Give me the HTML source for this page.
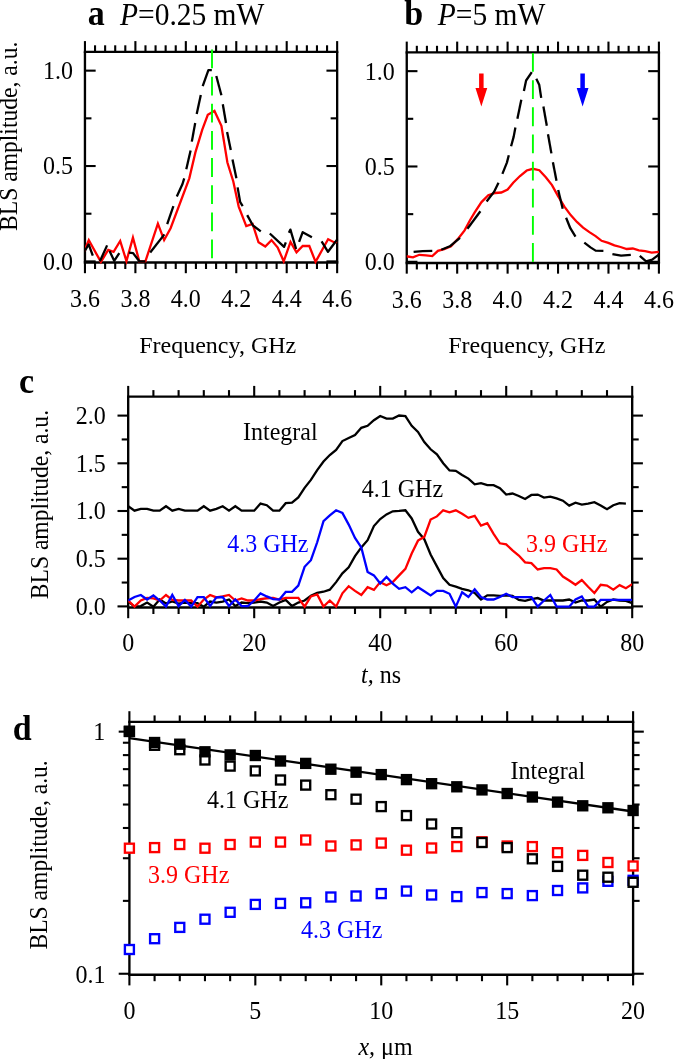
<!DOCTYPE html>
<html lang="en"><head><meta charset="utf-8"><title>BLS amplitude figure</title>
<style>
html,body{margin:0;padding:0;background:#fff;}
body{width:685px;height:1059px;overflow:hidden;}
svg{display:block;font-family:'Liberation Serif', 'DejaVu Serif', serif;}
</style></head><body>
<svg width="685" height="1059" viewBox="0 0 685 1059">
<rect x="0" y="0" width="685" height="1059" fill="#fff"/>
<defs><clipPath id="ca"><rect x="84.95" y="51.8" width="252.2" height="213.29999999999998"/></clipPath><clipPath id="cb"><rect x="406.75" y="52.3" width="252.14999999999998" height="213.24999999999997"/></clipPath><clipPath id="cc"><rect x="128.2" y="396.6" width="504.00000000000006" height="213.49999999999997"/></clipPath></defs>
<line x1="83.78" y1="51.80" x2="338.32" y2="51.80" stroke="#000" stroke-width="2.35" />
<line x1="83.78" y1="262.50" x2="338.32" y2="262.50" stroke="#000" stroke-width="2.35" />
<line x1="84.95" y1="51.80" x2="84.95" y2="262.50" stroke="#000" stroke-width="2.35" />
<line x1="337.15" y1="51.80" x2="337.15" y2="262.50" stroke="#000" stroke-width="2.35" />
<line x1="84.95" y1="51.80" x2="84.95" y2="41.10" stroke="#000" stroke-width="2.1" />
<line x1="84.95" y1="262.50" x2="84.95" y2="273.20" stroke="#000" stroke-width="2.1" />
<line x1="95.04" y1="51.80" x2="95.04" y2="45.30" stroke="#000" stroke-width="2.1" />
<line x1="95.04" y1="262.50" x2="95.04" y2="269.00" stroke="#000" stroke-width="2.1" />
<line x1="105.13" y1="51.80" x2="105.13" y2="45.30" stroke="#000" stroke-width="2.1" />
<line x1="105.13" y1="262.50" x2="105.13" y2="269.00" stroke="#000" stroke-width="2.1" />
<line x1="115.21" y1="51.80" x2="115.21" y2="45.30" stroke="#000" stroke-width="2.1" />
<line x1="115.21" y1="262.50" x2="115.21" y2="269.00" stroke="#000" stroke-width="2.1" />
<line x1="125.30" y1="51.80" x2="125.30" y2="45.30" stroke="#000" stroke-width="2.1" />
<line x1="125.30" y1="262.50" x2="125.30" y2="269.00" stroke="#000" stroke-width="2.1" />
<line x1="135.39" y1="51.80" x2="135.39" y2="41.10" stroke="#000" stroke-width="2.1" />
<line x1="135.39" y1="262.50" x2="135.39" y2="273.20" stroke="#000" stroke-width="2.1" />
<line x1="145.48" y1="51.80" x2="145.48" y2="45.30" stroke="#000" stroke-width="2.1" />
<line x1="145.48" y1="262.50" x2="145.48" y2="269.00" stroke="#000" stroke-width="2.1" />
<line x1="155.57" y1="51.80" x2="155.57" y2="45.30" stroke="#000" stroke-width="2.1" />
<line x1="155.57" y1="262.50" x2="155.57" y2="269.00" stroke="#000" stroke-width="2.1" />
<line x1="165.65" y1="51.80" x2="165.65" y2="45.30" stroke="#000" stroke-width="2.1" />
<line x1="165.65" y1="262.50" x2="165.65" y2="269.00" stroke="#000" stroke-width="2.1" />
<line x1="175.74" y1="51.80" x2="175.74" y2="45.30" stroke="#000" stroke-width="2.1" />
<line x1="175.74" y1="262.50" x2="175.74" y2="269.00" stroke="#000" stroke-width="2.1" />
<line x1="185.83" y1="51.80" x2="185.83" y2="41.10" stroke="#000" stroke-width="2.1" />
<line x1="185.83" y1="262.50" x2="185.83" y2="273.20" stroke="#000" stroke-width="2.1" />
<line x1="195.92" y1="51.80" x2="195.92" y2="45.30" stroke="#000" stroke-width="2.1" />
<line x1="195.92" y1="262.50" x2="195.92" y2="269.00" stroke="#000" stroke-width="2.1" />
<line x1="206.01" y1="51.80" x2="206.01" y2="45.30" stroke="#000" stroke-width="2.1" />
<line x1="206.01" y1="262.50" x2="206.01" y2="269.00" stroke="#000" stroke-width="2.1" />
<line x1="216.09" y1="51.80" x2="216.09" y2="45.30" stroke="#000" stroke-width="2.1" />
<line x1="216.09" y1="262.50" x2="216.09" y2="269.00" stroke="#000" stroke-width="2.1" />
<line x1="226.18" y1="51.80" x2="226.18" y2="45.30" stroke="#000" stroke-width="2.1" />
<line x1="226.18" y1="262.50" x2="226.18" y2="269.00" stroke="#000" stroke-width="2.1" />
<line x1="236.27" y1="51.80" x2="236.27" y2="41.10" stroke="#000" stroke-width="2.1" />
<line x1="236.27" y1="262.50" x2="236.27" y2="273.20" stroke="#000" stroke-width="2.1" />
<line x1="246.36" y1="51.80" x2="246.36" y2="45.30" stroke="#000" stroke-width="2.1" />
<line x1="246.36" y1="262.50" x2="246.36" y2="269.00" stroke="#000" stroke-width="2.1" />
<line x1="256.45" y1="51.80" x2="256.45" y2="45.30" stroke="#000" stroke-width="2.1" />
<line x1="256.45" y1="262.50" x2="256.45" y2="269.00" stroke="#000" stroke-width="2.1" />
<line x1="266.53" y1="51.80" x2="266.53" y2="45.30" stroke="#000" stroke-width="2.1" />
<line x1="266.53" y1="262.50" x2="266.53" y2="269.00" stroke="#000" stroke-width="2.1" />
<line x1="276.62" y1="51.80" x2="276.62" y2="45.30" stroke="#000" stroke-width="2.1" />
<line x1="276.62" y1="262.50" x2="276.62" y2="269.00" stroke="#000" stroke-width="2.1" />
<line x1="286.71" y1="51.80" x2="286.71" y2="41.10" stroke="#000" stroke-width="2.1" />
<line x1="286.71" y1="262.50" x2="286.71" y2="273.20" stroke="#000" stroke-width="2.1" />
<line x1="296.80" y1="51.80" x2="296.80" y2="45.30" stroke="#000" stroke-width="2.1" />
<line x1="296.80" y1="262.50" x2="296.80" y2="269.00" stroke="#000" stroke-width="2.1" />
<line x1="306.89" y1="51.80" x2="306.89" y2="45.30" stroke="#000" stroke-width="2.1" />
<line x1="306.89" y1="262.50" x2="306.89" y2="269.00" stroke="#000" stroke-width="2.1" />
<line x1="316.97" y1="51.80" x2="316.97" y2="45.30" stroke="#000" stroke-width="2.1" />
<line x1="316.97" y1="262.50" x2="316.97" y2="269.00" stroke="#000" stroke-width="2.1" />
<line x1="327.06" y1="51.80" x2="327.06" y2="45.30" stroke="#000" stroke-width="2.1" />
<line x1="327.06" y1="262.50" x2="327.06" y2="269.00" stroke="#000" stroke-width="2.1" />
<line x1="337.15" y1="51.80" x2="337.15" y2="41.10" stroke="#000" stroke-width="2.1" />
<line x1="337.15" y1="262.50" x2="337.15" y2="273.20" stroke="#000" stroke-width="2.1" />
<line x1="84.95" y1="261.40" x2="95.65" y2="261.40" stroke="#000" stroke-width="2.1" />
<line x1="337.15" y1="261.40" x2="326.45" y2="261.40" stroke="#000" stroke-width="2.1" />
<text transform="translate(72.95,269.80) scale(1.0,1.05)" font-size="24" text-anchor="end">0.0</text>
<line x1="84.95" y1="213.71" x2="91.45" y2="213.71" stroke="#000" stroke-width="2.1" />
<line x1="337.15" y1="213.71" x2="330.65" y2="213.71" stroke="#000" stroke-width="2.1" />
<line x1="84.95" y1="166.02" x2="95.65" y2="166.02" stroke="#000" stroke-width="2.1" />
<line x1="337.15" y1="166.02" x2="326.45" y2="166.02" stroke="#000" stroke-width="2.1" />
<text transform="translate(72.95,174.42) scale(1.0,1.05)" font-size="24" text-anchor="end">0.5</text>
<line x1="84.95" y1="118.34" x2="91.45" y2="118.34" stroke="#000" stroke-width="2.1" />
<line x1="337.15" y1="118.34" x2="330.65" y2="118.34" stroke="#000" stroke-width="2.1" />
<line x1="84.95" y1="70.65" x2="95.65" y2="70.65" stroke="#000" stroke-width="2.1" />
<line x1="337.15" y1="70.65" x2="326.45" y2="70.65" stroke="#000" stroke-width="2.1" />
<text transform="translate(72.95,79.05) scale(1.0,1.05)" font-size="24" text-anchor="end">1.0</text>
<text transform="translate(84.95,307.10) scale(1.0,1.05)" font-size="24" text-anchor="middle">3.6</text>
<text transform="translate(135.39,307.10) scale(1.0,1.05)" font-size="24" text-anchor="middle">3.8</text>
<text transform="translate(185.83,307.10) scale(1.0,1.05)" font-size="24" text-anchor="middle">4.0</text>
<text transform="translate(236.27,307.10) scale(1.0,1.05)" font-size="24" text-anchor="middle">4.2</text>
<text transform="translate(286.71,307.10) scale(1.0,1.05)" font-size="24" text-anchor="middle">4.4</text>
<text transform="translate(337.15,307.10) scale(1.0,1.05)" font-size="24" text-anchor="middle">4.6</text>
<text transform="translate(217.75,352.50) scale(1.0,1.0)" font-size="24" text-anchor="middle">Frequency, GHz</text>
<text transform="translate(87.80,24.60) scale(1.0,1.035)" font-size="34" font-weight="bold">a</text>
<text transform="translate(120.00,24.90) scale(1.0,1.08)" font-size="29.5"><tspan font-style="italic">P</tspan>=0.25 mW</text>
<line x1="405.57" y1="52.30" x2="660.07" y2="52.30" stroke="#000" stroke-width="2.35" />
<line x1="405.57" y1="262.95" x2="660.07" y2="262.95" stroke="#000" stroke-width="2.35" />
<line x1="406.75" y1="52.30" x2="406.75" y2="262.95" stroke="#000" stroke-width="2.35" />
<line x1="658.90" y1="52.30" x2="658.90" y2="262.95" stroke="#000" stroke-width="2.35" />
<line x1="406.75" y1="52.30" x2="406.75" y2="41.60" stroke="#000" stroke-width="2.1" />
<line x1="406.75" y1="262.95" x2="406.75" y2="273.65" stroke="#000" stroke-width="2.1" />
<line x1="416.84" y1="52.30" x2="416.84" y2="45.80" stroke="#000" stroke-width="2.1" />
<line x1="416.84" y1="262.95" x2="416.84" y2="269.45" stroke="#000" stroke-width="2.1" />
<line x1="426.92" y1="52.30" x2="426.92" y2="45.80" stroke="#000" stroke-width="2.1" />
<line x1="426.92" y1="262.95" x2="426.92" y2="269.45" stroke="#000" stroke-width="2.1" />
<line x1="437.01" y1="52.30" x2="437.01" y2="45.80" stroke="#000" stroke-width="2.1" />
<line x1="437.01" y1="262.95" x2="437.01" y2="269.45" stroke="#000" stroke-width="2.1" />
<line x1="447.09" y1="52.30" x2="447.09" y2="45.80" stroke="#000" stroke-width="2.1" />
<line x1="447.09" y1="262.95" x2="447.09" y2="269.45" stroke="#000" stroke-width="2.1" />
<line x1="457.18" y1="52.30" x2="457.18" y2="41.60" stroke="#000" stroke-width="2.1" />
<line x1="457.18" y1="262.95" x2="457.18" y2="273.65" stroke="#000" stroke-width="2.1" />
<line x1="467.27" y1="52.30" x2="467.27" y2="45.80" stroke="#000" stroke-width="2.1" />
<line x1="467.27" y1="262.95" x2="467.27" y2="269.45" stroke="#000" stroke-width="2.1" />
<line x1="477.35" y1="52.30" x2="477.35" y2="45.80" stroke="#000" stroke-width="2.1" />
<line x1="477.35" y1="262.95" x2="477.35" y2="269.45" stroke="#000" stroke-width="2.1" />
<line x1="487.44" y1="52.30" x2="487.44" y2="45.80" stroke="#000" stroke-width="2.1" />
<line x1="487.44" y1="262.95" x2="487.44" y2="269.45" stroke="#000" stroke-width="2.1" />
<line x1="497.52" y1="52.30" x2="497.52" y2="45.80" stroke="#000" stroke-width="2.1" />
<line x1="497.52" y1="262.95" x2="497.52" y2="269.45" stroke="#000" stroke-width="2.1" />
<line x1="507.61" y1="52.30" x2="507.61" y2="41.60" stroke="#000" stroke-width="2.1" />
<line x1="507.61" y1="262.95" x2="507.61" y2="273.65" stroke="#000" stroke-width="2.1" />
<line x1="517.70" y1="52.30" x2="517.70" y2="45.80" stroke="#000" stroke-width="2.1" />
<line x1="517.70" y1="262.95" x2="517.70" y2="269.45" stroke="#000" stroke-width="2.1" />
<line x1="527.78" y1="52.30" x2="527.78" y2="45.80" stroke="#000" stroke-width="2.1" />
<line x1="527.78" y1="262.95" x2="527.78" y2="269.45" stroke="#000" stroke-width="2.1" />
<line x1="537.87" y1="52.30" x2="537.87" y2="45.80" stroke="#000" stroke-width="2.1" />
<line x1="537.87" y1="262.95" x2="537.87" y2="269.45" stroke="#000" stroke-width="2.1" />
<line x1="547.95" y1="52.30" x2="547.95" y2="45.80" stroke="#000" stroke-width="2.1" />
<line x1="547.95" y1="262.95" x2="547.95" y2="269.45" stroke="#000" stroke-width="2.1" />
<line x1="558.04" y1="52.30" x2="558.04" y2="41.60" stroke="#000" stroke-width="2.1" />
<line x1="558.04" y1="262.95" x2="558.04" y2="273.65" stroke="#000" stroke-width="2.1" />
<line x1="568.13" y1="52.30" x2="568.13" y2="45.80" stroke="#000" stroke-width="2.1" />
<line x1="568.13" y1="262.95" x2="568.13" y2="269.45" stroke="#000" stroke-width="2.1" />
<line x1="578.21" y1="52.30" x2="578.21" y2="45.80" stroke="#000" stroke-width="2.1" />
<line x1="578.21" y1="262.95" x2="578.21" y2="269.45" stroke="#000" stroke-width="2.1" />
<line x1="588.30" y1="52.30" x2="588.30" y2="45.80" stroke="#000" stroke-width="2.1" />
<line x1="588.30" y1="262.95" x2="588.30" y2="269.45" stroke="#000" stroke-width="2.1" />
<line x1="598.38" y1="52.30" x2="598.38" y2="45.80" stroke="#000" stroke-width="2.1" />
<line x1="598.38" y1="262.95" x2="598.38" y2="269.45" stroke="#000" stroke-width="2.1" />
<line x1="608.47" y1="52.30" x2="608.47" y2="41.60" stroke="#000" stroke-width="2.1" />
<line x1="608.47" y1="262.95" x2="608.47" y2="273.65" stroke="#000" stroke-width="2.1" />
<line x1="618.56" y1="52.30" x2="618.56" y2="45.80" stroke="#000" stroke-width="2.1" />
<line x1="618.56" y1="262.95" x2="618.56" y2="269.45" stroke="#000" stroke-width="2.1" />
<line x1="628.64" y1="52.30" x2="628.64" y2="45.80" stroke="#000" stroke-width="2.1" />
<line x1="628.64" y1="262.95" x2="628.64" y2="269.45" stroke="#000" stroke-width="2.1" />
<line x1="638.73" y1="52.30" x2="638.73" y2="45.80" stroke="#000" stroke-width="2.1" />
<line x1="638.73" y1="262.95" x2="638.73" y2="269.45" stroke="#000" stroke-width="2.1" />
<line x1="648.81" y1="52.30" x2="648.81" y2="45.80" stroke="#000" stroke-width="2.1" />
<line x1="648.81" y1="262.95" x2="648.81" y2="269.45" stroke="#000" stroke-width="2.1" />
<line x1="658.90" y1="52.30" x2="658.90" y2="41.60" stroke="#000" stroke-width="2.1" />
<line x1="658.90" y1="262.95" x2="658.90" y2="273.65" stroke="#000" stroke-width="2.1" />
<line x1="406.75" y1="261.80" x2="417.45" y2="261.80" stroke="#000" stroke-width="2.1" />
<line x1="658.90" y1="261.80" x2="648.20" y2="261.80" stroke="#000" stroke-width="2.1" />
<text transform="translate(394.75,270.20) scale(1.0,1.05)" font-size="24" text-anchor="end">0.0</text>
<line x1="406.75" y1="214.14" x2="413.25" y2="214.14" stroke="#000" stroke-width="2.1" />
<line x1="658.90" y1="214.14" x2="652.40" y2="214.14" stroke="#000" stroke-width="2.1" />
<line x1="406.75" y1="166.48" x2="417.45" y2="166.48" stroke="#000" stroke-width="2.1" />
<line x1="658.90" y1="166.48" x2="648.20" y2="166.48" stroke="#000" stroke-width="2.1" />
<text transform="translate(394.75,174.88) scale(1.0,1.05)" font-size="24" text-anchor="end">0.5</text>
<line x1="406.75" y1="118.81" x2="413.25" y2="118.81" stroke="#000" stroke-width="2.1" />
<line x1="658.90" y1="118.81" x2="652.40" y2="118.81" stroke="#000" stroke-width="2.1" />
<line x1="406.75" y1="71.15" x2="417.45" y2="71.15" stroke="#000" stroke-width="2.1" />
<line x1="658.90" y1="71.15" x2="648.20" y2="71.15" stroke="#000" stroke-width="2.1" />
<text transform="translate(394.75,79.55) scale(1.0,1.05)" font-size="24" text-anchor="end">1.0</text>
<text transform="translate(406.75,307.55) scale(1.0,1.05)" font-size="24" text-anchor="middle">3.6</text>
<text transform="translate(457.18,307.55) scale(1.0,1.05)" font-size="24" text-anchor="middle">3.8</text>
<text transform="translate(507.61,307.55) scale(1.0,1.05)" font-size="24" text-anchor="middle">4.0</text>
<text transform="translate(558.04,307.55) scale(1.0,1.05)" font-size="24" text-anchor="middle">4.2</text>
<text transform="translate(608.47,307.55) scale(1.0,1.05)" font-size="24" text-anchor="middle">4.4</text>
<text transform="translate(658.90,307.55) scale(1.0,1.05)" font-size="24" text-anchor="middle">4.6</text>
<text transform="translate(526.80,352.95) scale(1.0,1.0)" font-size="24" text-anchor="middle">Frequency, GHz</text>
<text transform="translate(404.30,25.40) scale(1.0,1.035)" font-size="34" font-weight="bold">b</text>
<text transform="translate(437.80,24.90) scale(1.0,1.08)" font-size="29.5"><tspan font-style="italic">P</tspan>=5 mW</text>
<text transform="translate(17.2,136.3) rotate(-90) scale(1,1.06)" font-size="23.6" text-anchor="middle">BLS amplitude, a.u.</text>
<polyline points="82.00,255.00 85.10,249.00 88.79,240.22 100.91,261.92 108.21,249.83 113.59,251.77 120.20,240.97 126.45,261.10 132.94,237.65 139.30,261.30 145.40,261.30 157.89,223.62 164.13,240.10 170.60,228.20 189.30,178.30 195.40,152.40 202.20,129.80 207.80,114.80 214.46,110.97 221.40,125.80 227.40,162.50 233.30,181.50 238.70,206.60 246.26,226.12 252.61,224.02 258.50,242.30 265.26,246.50 271.49,240.13 277.70,247.50 283.71,261.33 290.53,241.99 296.51,252.35 302.70,246.00 309.30,246.00 315.58,261.87 322.10,250.00 328.11,239.18 334.40,242.40 337.40,241.90 340.00,241.50" fill="none" stroke="#ff0000" stroke-width="2.3" stroke-linejoin="miter" stroke-miterlimit="10" clip-path="url(#ca)"/>
<polyline points="85.10,250.50 88.70,244.40 92.80,255.70" fill="none" stroke="#000" stroke-width="2.3" stroke-linejoin="round"/>
<polyline points="99.90,261.30 107.10,245.40" fill="none" stroke="#000" stroke-width="2.3" stroke-linejoin="round"/>
<polyline points="109.60,251.10 114.20,260.80 119.30,253.10" fill="none" stroke="#000" stroke-width="2.3" stroke-linejoin="round"/>
<polyline points="128.80,252.60 133.10,253.10 139.30,261.30 145.40,261.30" fill="none" stroke="#000" stroke-width="2.3" stroke-linejoin="round"/>
<polyline points="150.20,252.50 164.40,234.40" fill="none" stroke="#000" stroke-width="2.3" stroke-linejoin="round"/>
<polyline points="167.20,224.20 173.40,206.10" fill="none" stroke="#000" stroke-width="2.3" stroke-linejoin="round"/>
<polyline points="176.80,196.40 182.50,184.00 184.20,178.30" fill="none" stroke="#000" stroke-width="2.3" stroke-linejoin="round"/>
<polyline points="186.30,169.20 190.60,150.60" fill="none" stroke="#000" stroke-width="2.3" stroke-linejoin="round"/>
<polyline points="191.80,141.60 195.20,123.00" fill="none" stroke="#000" stroke-width="2.3" stroke-linejoin="round"/>
<polyline points="196.70,113.90 200.80,94.90" fill="none" stroke="#000" stroke-width="2.3" stroke-linejoin="round"/>
<polyline points="202.70,86.10 208.40,70.10 211.80,70.10" fill="none" stroke="#000" stroke-width="2.3" stroke-linejoin="round"/>
<polyline points="216.30,76.00 221.40,95.20" fill="none" stroke="#000" stroke-width="2.3" stroke-linejoin="round"/>
<polyline points="222.80,104.30 226.00,123.00" fill="none" stroke="#000" stroke-width="2.3" stroke-linejoin="round"/>
<polyline points="227.10,132.00 230.80,150.10" fill="none" stroke="#000" stroke-width="2.3" stroke-linejoin="round"/>
<polyline points="232.50,159.40 236.40,178.30" fill="none" stroke="#000" stroke-width="2.3" stroke-linejoin="round"/>
<polyline points="237.60,187.40 240.20,202.10 242.70,206.10" fill="none" stroke="#000" stroke-width="2.3" stroke-linejoin="round"/>
<polyline points="247.20,215.10 252.80,225.30 260.80,231.30" fill="none" stroke="#000" stroke-width="2.3" stroke-linejoin="round"/>
<polyline points="269.80,233.50 284.10,246.90 285.80,242.40" fill="none" stroke="#000" stroke-width="2.3" stroke-linejoin="round"/>
<polyline points="288.90,232.70 290.40,229.60 296.10,249.00" fill="none" stroke="#000" stroke-width="2.3" stroke-linejoin="round"/>
<polyline points="299.10,241.90 302.70,232.20 311.90,237.30" fill="none" stroke="#000" stroke-width="2.3" stroke-linejoin="round"/>
<polyline points="321.60,241.30 328.00,251.80 337.40,239.30" fill="none" stroke="#000" stroke-width="2.3" stroke-linejoin="round"/>
<line x1="212.00" y1="49.50" x2="212.00" y2="259.50" stroke="#00ff00" stroke-width="1.9" stroke-dasharray="18.8 8.35"/>
<polyline points="405.00,256.30 407.70,256.50 413.00,257.40 419.30,254.80 426.00,255.30 432.30,256.10 437.90,250.80 444.20,249.10 451.00,246.30 458.90,237.80 464.60,230.40 470.00,220.20 474.70,212.30 481.50,202.10 488.30,195.30 495.10,193.00 501.30,192.50 507.60,189.60 513.20,182.80 520.00,176.00 526.70,170.50 532.90,168.80 539.30,170.20 545.80,177.20 552.00,185.10 558.20,196.40 564.40,206.60 570.70,215.10 576.90,221.90 583.10,227.60 589.40,232.10 595.60,236.10 601.60,240.80 608.30,242.90 614.40,245.40 620.50,247.00 626.70,249.00 632.80,248.50 638.90,250.30 645.10,251.10 651.70,252.60 658.90,251.80 661.00,251.60" fill="none" stroke="#ff0000" stroke-width="2.3" stroke-linejoin="miter" stroke-miterlimit="10" clip-path="url(#cb)"/>
<polyline points="413.60,251.90 422.70,251.10 432.30,250.80" fill="none" stroke="#000" stroke-width="2.3" stroke-linejoin="round"/>
<polyline points="441.30,249.70 449.80,246.30 460.00,237.80" fill="none" stroke="#000" stroke-width="2.3" stroke-linejoin="round"/>
<polyline points="467.40,228.70 480.40,211.20" fill="none" stroke="#000" stroke-width="2.3" stroke-linejoin="round"/>
<polyline points="486.60,201.50 494.00,191.90 498.50,182.80" fill="none" stroke="#000" stroke-width="2.3" stroke-linejoin="round"/>
<polyline points="502.40,173.90 506.90,162.60 508.80,155.20" fill="none" stroke="#000" stroke-width="2.3" stroke-linejoin="round"/>
<polyline points="511.10,146.20 513.70,136.60 515.40,127.50" fill="none" stroke="#000" stroke-width="2.3" stroke-linejoin="round"/>
<polyline points="517.40,118.70 521.30,99.70" fill="none" stroke="#000" stroke-width="2.3" stroke-linejoin="round"/>
<polyline points="523.90,91.00 526.10,80.50 531.80,72.20" fill="none" stroke="#000" stroke-width="2.3" stroke-linejoin="round"/>
<polyline points="536.30,78.80 539.20,84.70 541.20,97.80" fill="none" stroke="#000" stroke-width="2.3" stroke-linejoin="round"/>
<polyline points="543.40,106.50 546.80,125.80" fill="none" stroke="#000" stroke-width="2.3" stroke-linejoin="round"/>
<polyline points="548.00,134.30 551.40,153.40" fill="none" stroke="#000" stroke-width="2.3" stroke-linejoin="round"/>
<polyline points="552.90,162.20 556.50,180.80" fill="none" stroke="#000" stroke-width="2.3" stroke-linejoin="round"/>
<polyline points="558.20,189.90 562.70,208.70" fill="none" stroke="#000" stroke-width="2.3" stroke-linejoin="round"/>
<polyline points="566.10,217.70 570.30,228.20 575.50,236.60" fill="none" stroke="#000" stroke-width="2.3" stroke-linejoin="round"/>
<polyline points="584.30,242.60 590.50,247.40 595.60,250.60 603.40,250.80" fill="none" stroke="#000" stroke-width="2.3" stroke-linejoin="round"/>
<polyline points="612.40,254.10 621.10,255.70 630.80,254.80" fill="none" stroke="#000" stroke-width="2.3" stroke-linejoin="round"/>
<polyline points="639.80,255.90 646.10,261.30 652.20,259.70 658.90,254.60" fill="none" stroke="#000" stroke-width="2.3" stroke-linejoin="round"/>
<line x1="532.90" y1="53.05" x2="532.90" y2="261.90" stroke="#00ff00" stroke-width="1.9" stroke-dasharray="18.8 8.35"/>
<polygon fill="#ff0000" points="479.10,73.6 483.60,73.6 483.60,88.0 487.25,88.0 481.35,106.4 475.45,88.0 479.10,88.0"/>
<polygon fill="#0000ff" points="580.35,73.6 584.85,73.6 584.85,88.0 588.50,88.0 582.60,106.4 576.70,88.0 580.35,88.0"/>
<line x1="127.02" y1="396.60" x2="633.38" y2="396.60" stroke="#000" stroke-width="2.35" />
<line x1="127.02" y1="607.50" x2="633.38" y2="607.50" stroke="#000" stroke-width="2.35" />
<line x1="128.20" y1="396.60" x2="128.20" y2="607.50" stroke="#000" stroke-width="2.35" />
<line x1="632.20" y1="396.60" x2="632.20" y2="607.50" stroke="#000" stroke-width="2.35" />
<line x1="128.20" y1="396.60" x2="128.20" y2="385.90" stroke="#000" stroke-width="2.1" />
<line x1="128.20" y1="607.50" x2="128.20" y2="618.20" stroke="#000" stroke-width="2.1" />
<line x1="153.40" y1="396.60" x2="153.40" y2="390.10" stroke="#000" stroke-width="2.1" />
<line x1="153.40" y1="607.50" x2="153.40" y2="614.00" stroke="#000" stroke-width="2.1" />
<line x1="178.60" y1="396.60" x2="178.60" y2="390.10" stroke="#000" stroke-width="2.1" />
<line x1="178.60" y1="607.50" x2="178.60" y2="614.00" stroke="#000" stroke-width="2.1" />
<line x1="203.80" y1="396.60" x2="203.80" y2="390.10" stroke="#000" stroke-width="2.1" />
<line x1="203.80" y1="607.50" x2="203.80" y2="614.00" stroke="#000" stroke-width="2.1" />
<line x1="229.00" y1="396.60" x2="229.00" y2="390.10" stroke="#000" stroke-width="2.1" />
<line x1="229.00" y1="607.50" x2="229.00" y2="614.00" stroke="#000" stroke-width="2.1" />
<line x1="254.20" y1="396.60" x2="254.20" y2="385.90" stroke="#000" stroke-width="2.1" />
<line x1="254.20" y1="607.50" x2="254.20" y2="618.20" stroke="#000" stroke-width="2.1" />
<line x1="279.40" y1="396.60" x2="279.40" y2="390.10" stroke="#000" stroke-width="2.1" />
<line x1="279.40" y1="607.50" x2="279.40" y2="614.00" stroke="#000" stroke-width="2.1" />
<line x1="304.60" y1="396.60" x2="304.60" y2="390.10" stroke="#000" stroke-width="2.1" />
<line x1="304.60" y1="607.50" x2="304.60" y2="614.00" stroke="#000" stroke-width="2.1" />
<line x1="329.80" y1="396.60" x2="329.80" y2="390.10" stroke="#000" stroke-width="2.1" />
<line x1="329.80" y1="607.50" x2="329.80" y2="614.00" stroke="#000" stroke-width="2.1" />
<line x1="355.00" y1="396.60" x2="355.00" y2="390.10" stroke="#000" stroke-width="2.1" />
<line x1="355.00" y1="607.50" x2="355.00" y2="614.00" stroke="#000" stroke-width="2.1" />
<line x1="380.20" y1="396.60" x2="380.20" y2="385.90" stroke="#000" stroke-width="2.1" />
<line x1="380.20" y1="607.50" x2="380.20" y2="618.20" stroke="#000" stroke-width="2.1" />
<line x1="405.40" y1="396.60" x2="405.40" y2="390.10" stroke="#000" stroke-width="2.1" />
<line x1="405.40" y1="607.50" x2="405.40" y2="614.00" stroke="#000" stroke-width="2.1" />
<line x1="430.60" y1="396.60" x2="430.60" y2="390.10" stroke="#000" stroke-width="2.1" />
<line x1="430.60" y1="607.50" x2="430.60" y2="614.00" stroke="#000" stroke-width="2.1" />
<line x1="455.80" y1="396.60" x2="455.80" y2="390.10" stroke="#000" stroke-width="2.1" />
<line x1="455.80" y1="607.50" x2="455.80" y2="614.00" stroke="#000" stroke-width="2.1" />
<line x1="481.00" y1="396.60" x2="481.00" y2="390.10" stroke="#000" stroke-width="2.1" />
<line x1="481.00" y1="607.50" x2="481.00" y2="614.00" stroke="#000" stroke-width="2.1" />
<line x1="506.20" y1="396.60" x2="506.20" y2="385.90" stroke="#000" stroke-width="2.1" />
<line x1="506.20" y1="607.50" x2="506.20" y2="618.20" stroke="#000" stroke-width="2.1" />
<line x1="531.40" y1="396.60" x2="531.40" y2="390.10" stroke="#000" stroke-width="2.1" />
<line x1="531.40" y1="607.50" x2="531.40" y2="614.00" stroke="#000" stroke-width="2.1" />
<line x1="556.60" y1="396.60" x2="556.60" y2="390.10" stroke="#000" stroke-width="2.1" />
<line x1="556.60" y1="607.50" x2="556.60" y2="614.00" stroke="#000" stroke-width="2.1" />
<line x1="581.80" y1="396.60" x2="581.80" y2="390.10" stroke="#000" stroke-width="2.1" />
<line x1="581.80" y1="607.50" x2="581.80" y2="614.00" stroke="#000" stroke-width="2.1" />
<line x1="607.00" y1="396.60" x2="607.00" y2="390.10" stroke="#000" stroke-width="2.1" />
<line x1="607.00" y1="607.50" x2="607.00" y2="614.00" stroke="#000" stroke-width="2.1" />
<line x1="632.20" y1="396.60" x2="632.20" y2="385.90" stroke="#000" stroke-width="2.1" />
<line x1="632.20" y1="607.50" x2="632.20" y2="618.20" stroke="#000" stroke-width="2.1" />
<line x1="128.20" y1="606.40" x2="117.50" y2="606.40" stroke="#000" stroke-width="2.1" />
<line x1="632.20" y1="606.40" x2="642.90" y2="606.40" stroke="#000" stroke-width="2.1" />
<text transform="translate(105.70,614.80) scale(1.0,1.05)" font-size="24" text-anchor="end">0.0</text>
<line x1="128.20" y1="582.55" x2="121.70" y2="582.55" stroke="#000" stroke-width="2.1" />
<line x1="632.20" y1="582.55" x2="638.70" y2="582.55" stroke="#000" stroke-width="2.1" />
<line x1="128.20" y1="558.70" x2="117.50" y2="558.70" stroke="#000" stroke-width="2.1" />
<line x1="632.20" y1="558.70" x2="642.90" y2="558.70" stroke="#000" stroke-width="2.1" />
<text transform="translate(105.70,567.10) scale(1.0,1.05)" font-size="24" text-anchor="end">0.5</text>
<line x1="128.20" y1="534.85" x2="121.70" y2="534.85" stroke="#000" stroke-width="2.1" />
<line x1="632.20" y1="534.85" x2="638.70" y2="534.85" stroke="#000" stroke-width="2.1" />
<line x1="128.20" y1="511.00" x2="117.50" y2="511.00" stroke="#000" stroke-width="2.1" />
<line x1="632.20" y1="511.00" x2="642.90" y2="511.00" stroke="#000" stroke-width="2.1" />
<text transform="translate(105.70,519.40) scale(1.0,1.05)" font-size="24" text-anchor="end">1.0</text>
<line x1="128.20" y1="487.15" x2="121.70" y2="487.15" stroke="#000" stroke-width="2.1" />
<line x1="632.20" y1="487.15" x2="638.70" y2="487.15" stroke="#000" stroke-width="2.1" />
<line x1="128.20" y1="463.30" x2="117.50" y2="463.30" stroke="#000" stroke-width="2.1" />
<line x1="632.20" y1="463.30" x2="642.90" y2="463.30" stroke="#000" stroke-width="2.1" />
<text transform="translate(105.70,471.70) scale(1.0,1.05)" font-size="24" text-anchor="end">1.5</text>
<line x1="128.20" y1="439.45" x2="121.70" y2="439.45" stroke="#000" stroke-width="2.1" />
<line x1="632.20" y1="439.45" x2="638.70" y2="439.45" stroke="#000" stroke-width="2.1" />
<line x1="128.20" y1="415.60" x2="117.50" y2="415.60" stroke="#000" stroke-width="2.1" />
<line x1="632.20" y1="415.60" x2="642.90" y2="415.60" stroke="#000" stroke-width="2.1" />
<text transform="translate(105.70,424.00) scale(1.0,1.05)" font-size="24" text-anchor="end">2.0</text>
<text transform="translate(128.20,651.00) scale(1.0,1.05)" font-size="24" text-anchor="middle">0</text>
<text transform="translate(254.20,651.00) scale(1.0,1.05)" font-size="24" text-anchor="middle">20</text>
<text transform="translate(380.20,651.00) scale(1.0,1.05)" font-size="24" text-anchor="middle">40</text>
<text transform="translate(506.20,651.00) scale(1.0,1.05)" font-size="24" text-anchor="middle">60</text>
<text transform="translate(632.20,651.00) scale(1.0,1.05)" font-size="24" text-anchor="middle">80</text>
<text transform="translate(381.10,683.30) scale(1.0,1.05)" font-size="24" text-anchor="middle"><tspan font-style="italic">t,</tspan> ns</text>
<text transform="translate(19.10,393.00) scale(1.0,1.035)" font-size="34" font-weight="bold">c</text>
<text transform="translate(47.7,504.6) rotate(-90) scale(1,1.06)" font-size="23.6" text-anchor="middle">BLS amplitude, a.u.</text>
<polyline points="128.20,506.20 134.50,510.70 140.80,508.86 147.10,508.86 153.40,510.70 159.70,510.70 166.00,506.20 172.30,510.70 178.60,508.86 184.90,510.70 191.20,510.70 197.50,510.70 203.80,506.20 210.10,510.70 216.40,508.86 222.70,506.20 229.00,510.70 235.30,506.20 241.60,510.70 247.90,510.70 254.20,510.70 260.50,503.55 266.80,505.18 273.10,510.70 279.40,510.70 285.70,503.14 292.00,502.73 298.30,497.41 304.60,487.81 310.90,479.92 317.20,470.11 323.50,461.53 329.80,454.99 336.10,449.88 342.40,441.09 348.70,438.03 355.00,434.96 361.30,427.81 367.60,425.77 373.90,420.25 380.20,415.96 386.50,418.61 392.80,418.61 399.10,415.55 405.40,416.16 411.70,425.77 418.00,431.90 424.30,442.12 430.60,449.27 436.90,454.38 443.20,463.28 449.50,470.44 455.80,470.85 462.10,474.93 468.40,478.61 474.70,484.33 481.00,483.11 487.30,485.15 493.60,485.15 499.90,488.22 506.20,494.55 512.50,493.53 518.80,495.98 525.10,499.05 531.40,494.96 537.70,494.55 544.00,497.62 550.30,496.60 556.60,498.44 562.90,500.68 569.20,505.59 575.50,502.73 581.80,504.57 588.10,503.55 594.40,502.12 600.70,505.59 607.00,509.27 613.30,505.18 619.60,503.14 625.90,503.55" fill="none" stroke="#000" stroke-width="2.3" stroke-linejoin="miter" stroke-miterlimit="10" />
<polyline points="128.20,601.53 134.50,606.64 140.80,606.03 147.10,602.55 153.40,606.64 159.70,599.49 166.00,603.57 172.30,601.53 178.60,603.57 184.90,602.55 191.20,603.17 197.50,603.17 203.80,606.64 210.10,601.53 216.40,602.55 222.70,601.53 229.00,599.49 235.30,606.03 241.60,602.55 247.90,603.17 254.20,602.55 260.50,601.53 266.80,602.55 273.10,606.03 279.40,602.55 285.70,599.90 292.00,606.03 298.30,602.55 304.60,600.51 310.90,595.81 317.20,592.95 323.50,591.72 329.80,589.68 336.10,582.12 342.40,573.33 348.70,567.20 355.00,556.16 361.30,547.37 367.60,540.22 373.90,526.03 380.20,519.08 386.50,514.38 392.80,511.31 399.10,510.90 405.40,510.29 411.70,518.47 418.00,531.75 424.30,539.20 430.60,554.52 436.90,566.38 443.20,578.03 449.50,584.77 455.80,586.61 462.10,588.86 468.40,590.29 474.70,592.95 481.00,599.49 487.30,595.40 493.60,595.40 499.90,595.81 506.20,595.40 512.50,595.81 518.80,599.90 525.10,600.92 531.40,599.08 537.70,598.06 544.00,600.51 550.30,600.51 556.60,600.51 562.90,600.51 569.20,599.49 575.50,602.55 581.80,600.51 588.10,600.51 594.40,599.49 600.70,606.64 607.00,601.94 613.30,599.49 619.60,600.51 625.90,600.92 632.20,603.17" fill="none" stroke="#000" stroke-width="2.3" stroke-linejoin="miter" stroke-miterlimit="10" clip-path="url(#cc)"/>
<polyline points="128.20,600.51 134.50,606.64 140.80,600.51 147.10,597.85 153.40,598.47 159.70,600.51 166.00,594.99 172.30,599.90 178.60,600.51 184.90,600.51 191.20,600.51 197.50,606.64 203.80,599.49 210.10,594.99 216.40,597.44 222.70,596.42 229.00,594.99 235.30,600.51 241.60,598.47 247.90,600.51 254.20,600.51 260.50,599.08 266.80,598.26 273.10,597.85 279.40,599.49 285.70,597.85 292.00,597.85 298.30,597.85 304.60,606.64 310.90,596.42 317.20,594.38 323.50,606.64 329.80,600.51 336.10,606.64 342.40,593.36 348.70,586.20 355.00,590.90 361.30,594.99 367.60,587.22 373.90,589.88 380.20,582.12 386.50,585.18 392.80,582.12 399.10,575.37 405.40,568.83 411.70,553.50 418.00,540.63 424.30,536.86 430.60,519.49 436.90,516.42 443.20,510.29 449.50,512.33 455.80,510.29 462.10,513.76 468.40,517.85 474.70,515.81 481.00,525.62 487.30,523.17 493.60,533.79 499.90,543.28 506.20,544.31 512.50,550.44 518.80,555.55 525.10,562.29 531.40,563.11 537.70,569.44 544.00,568.22 550.30,568.22 556.60,569.44 562.90,576.60 569.20,580.48 575.50,584.77 581.80,580.07 588.10,586.82 594.40,592.95 600.70,584.77 607.00,585.59 613.30,589.68 619.60,585.18 625.90,588.25 632.20,584.16" fill="none" stroke="#ff0000" stroke-width="2.3" stroke-linejoin="miter" stroke-miterlimit="10" clip-path="url(#cc)"/>
<polyline points="128.20,600.51 134.50,597.03 140.80,594.99 147.10,599.49 153.40,595.40 159.70,600.51 166.00,606.64 172.30,594.99 178.60,606.03 184.90,599.90 191.20,606.64 197.50,597.03 203.80,597.03 210.10,606.03 216.40,597.44 222.70,597.03 229.00,606.03 235.30,599.49 241.60,606.03 247.90,606.03 254.20,600.51 260.50,593.36 266.80,596.42 273.10,599.08 279.40,599.49 285.70,591.93 292.00,591.93 298.30,585.59 304.60,566.79 310.90,560.25 317.20,542.26 323.50,521.12 329.80,515.40 336.10,510.29 342.40,512.95 348.70,524.60 355.00,537.88 361.30,547.37 367.60,571.90 373.90,575.37 380.20,583.55 386.50,577.01 392.80,583.55 399.10,588.86 405.40,587.22 411.70,592.33 418.00,587.22 424.30,591.31 430.60,595.40 436.90,590.90 443.20,590.90 449.50,593.76 455.80,606.64 462.10,592.33 468.40,597.03 474.70,589.27 481.00,597.03 487.30,599.49 493.60,599.49 499.90,597.03 506.20,593.76 512.50,597.03 518.80,597.03 525.10,597.03 531.40,597.03 537.70,606.64 544.00,600.51 550.30,594.99 556.60,606.64 562.90,606.64 569.20,606.64 575.50,599.49 581.80,596.42 588.10,606.64 594.40,606.64 600.70,599.90 607.00,599.90 613.30,599.90 619.60,599.90 625.90,599.90 632.20,599.90" fill="none" stroke="#0000ff" stroke-width="2.3" stroke-linejoin="miter" stroke-miterlimit="10" clip-path="url(#cc)"/>
<text transform="translate(243.00,439.80) scale(1.0,1.05)" font-size="24">Integral</text>
<text transform="translate(361.80,497.20) scale(1.0,1.05)" font-size="24">4.1 GHz</text>
<text transform="translate(227.20,552.00) scale(1.0,1.05)" font-size="24" fill="#0000ff">4.3 GHz</text>
<text transform="translate(526.00,551.80) scale(1.0,1.05)" font-size="24" fill="#ff0000">3.9 GHz</text>
<line x1="128.22" y1="721.90" x2="634.27" y2="721.90" stroke="#000" stroke-width="2.35" />
<line x1="128.22" y1="974.70" x2="634.27" y2="974.70" stroke="#000" stroke-width="2.35" />
<line x1="129.40" y1="721.90" x2="129.40" y2="974.70" stroke="#000" stroke-width="2.35" />
<line x1="633.10" y1="721.90" x2="633.10" y2="974.70" stroke="#000" stroke-width="2.35" />
<line x1="129.40" y1="721.90" x2="129.40" y2="711.20" stroke="#000" stroke-width="2.1" />
<line x1="129.40" y1="974.70" x2="129.40" y2="985.40" stroke="#000" stroke-width="2.1" />
<line x1="154.59" y1="721.90" x2="154.59" y2="715.40" stroke="#000" stroke-width="2.1" />
<line x1="154.59" y1="974.70" x2="154.59" y2="981.20" stroke="#000" stroke-width="2.1" />
<line x1="179.77" y1="721.90" x2="179.77" y2="715.40" stroke="#000" stroke-width="2.1" />
<line x1="179.77" y1="974.70" x2="179.77" y2="981.20" stroke="#000" stroke-width="2.1" />
<line x1="204.96" y1="721.90" x2="204.96" y2="715.40" stroke="#000" stroke-width="2.1" />
<line x1="204.96" y1="974.70" x2="204.96" y2="981.20" stroke="#000" stroke-width="2.1" />
<line x1="230.14" y1="721.90" x2="230.14" y2="715.40" stroke="#000" stroke-width="2.1" />
<line x1="230.14" y1="974.70" x2="230.14" y2="981.20" stroke="#000" stroke-width="2.1" />
<line x1="255.32" y1="721.90" x2="255.32" y2="711.20" stroke="#000" stroke-width="2.1" />
<line x1="255.32" y1="974.70" x2="255.32" y2="985.40" stroke="#000" stroke-width="2.1" />
<line x1="280.51" y1="721.90" x2="280.51" y2="715.40" stroke="#000" stroke-width="2.1" />
<line x1="280.51" y1="974.70" x2="280.51" y2="981.20" stroke="#000" stroke-width="2.1" />
<line x1="305.70" y1="721.90" x2="305.70" y2="715.40" stroke="#000" stroke-width="2.1" />
<line x1="305.70" y1="974.70" x2="305.70" y2="981.20" stroke="#000" stroke-width="2.1" />
<line x1="330.88" y1="721.90" x2="330.88" y2="715.40" stroke="#000" stroke-width="2.1" />
<line x1="330.88" y1="974.70" x2="330.88" y2="981.20" stroke="#000" stroke-width="2.1" />
<line x1="356.07" y1="721.90" x2="356.07" y2="715.40" stroke="#000" stroke-width="2.1" />
<line x1="356.07" y1="974.70" x2="356.07" y2="981.20" stroke="#000" stroke-width="2.1" />
<line x1="381.25" y1="721.90" x2="381.25" y2="711.20" stroke="#000" stroke-width="2.1" />
<line x1="381.25" y1="974.70" x2="381.25" y2="985.40" stroke="#000" stroke-width="2.1" />
<line x1="406.44" y1="721.90" x2="406.44" y2="715.40" stroke="#000" stroke-width="2.1" />
<line x1="406.44" y1="974.70" x2="406.44" y2="981.20" stroke="#000" stroke-width="2.1" />
<line x1="431.62" y1="721.90" x2="431.62" y2="715.40" stroke="#000" stroke-width="2.1" />
<line x1="431.62" y1="974.70" x2="431.62" y2="981.20" stroke="#000" stroke-width="2.1" />
<line x1="456.81" y1="721.90" x2="456.81" y2="715.40" stroke="#000" stroke-width="2.1" />
<line x1="456.81" y1="974.70" x2="456.81" y2="981.20" stroke="#000" stroke-width="2.1" />
<line x1="481.99" y1="721.90" x2="481.99" y2="715.40" stroke="#000" stroke-width="2.1" />
<line x1="481.99" y1="974.70" x2="481.99" y2="981.20" stroke="#000" stroke-width="2.1" />
<line x1="507.18" y1="721.90" x2="507.18" y2="711.20" stroke="#000" stroke-width="2.1" />
<line x1="507.18" y1="974.70" x2="507.18" y2="985.40" stroke="#000" stroke-width="2.1" />
<line x1="532.36" y1="721.90" x2="532.36" y2="715.40" stroke="#000" stroke-width="2.1" />
<line x1="532.36" y1="974.70" x2="532.36" y2="981.20" stroke="#000" stroke-width="2.1" />
<line x1="557.55" y1="721.90" x2="557.55" y2="715.40" stroke="#000" stroke-width="2.1" />
<line x1="557.55" y1="974.70" x2="557.55" y2="981.20" stroke="#000" stroke-width="2.1" />
<line x1="582.73" y1="721.90" x2="582.73" y2="715.40" stroke="#000" stroke-width="2.1" />
<line x1="582.73" y1="974.70" x2="582.73" y2="981.20" stroke="#000" stroke-width="2.1" />
<line x1="607.92" y1="721.90" x2="607.92" y2="715.40" stroke="#000" stroke-width="2.1" />
<line x1="607.92" y1="974.70" x2="607.92" y2="981.20" stroke="#000" stroke-width="2.1" />
<line x1="633.10" y1="721.90" x2="633.10" y2="711.20" stroke="#000" stroke-width="2.1" />
<line x1="633.10" y1="974.70" x2="633.10" y2="985.40" stroke="#000" stroke-width="2.1" />
<line x1="129.40" y1="973.75" x2="118.70" y2="973.75" stroke="#000" stroke-width="2.1" />
<line x1="633.10" y1="973.75" x2="643.80" y2="973.75" stroke="#000" stroke-width="2.1" />
<line x1="129.40" y1="900.87" x2="122.90" y2="900.87" stroke="#000" stroke-width="2.1" />
<line x1="633.10" y1="900.87" x2="639.60" y2="900.87" stroke="#000" stroke-width="2.1" />
<line x1="129.40" y1="858.24" x2="122.90" y2="858.24" stroke="#000" stroke-width="2.1" />
<line x1="633.10" y1="858.24" x2="639.60" y2="858.24" stroke="#000" stroke-width="2.1" />
<line x1="129.40" y1="827.99" x2="122.90" y2="827.99" stroke="#000" stroke-width="2.1" />
<line x1="633.10" y1="827.99" x2="639.60" y2="827.99" stroke="#000" stroke-width="2.1" />
<line x1="129.40" y1="804.53" x2="122.90" y2="804.53" stroke="#000" stroke-width="2.1" />
<line x1="633.10" y1="804.53" x2="639.60" y2="804.53" stroke="#000" stroke-width="2.1" />
<line x1="129.40" y1="785.36" x2="122.90" y2="785.36" stroke="#000" stroke-width="2.1" />
<line x1="633.10" y1="785.36" x2="639.60" y2="785.36" stroke="#000" stroke-width="2.1" />
<line x1="129.40" y1="769.15" x2="122.90" y2="769.15" stroke="#000" stroke-width="2.1" />
<line x1="633.10" y1="769.15" x2="639.60" y2="769.15" stroke="#000" stroke-width="2.1" />
<line x1="129.40" y1="755.11" x2="122.90" y2="755.11" stroke="#000" stroke-width="2.1" />
<line x1="633.10" y1="755.11" x2="639.60" y2="755.11" stroke="#000" stroke-width="2.1" />
<line x1="129.40" y1="742.73" x2="122.90" y2="742.73" stroke="#000" stroke-width="2.1" />
<line x1="633.10" y1="742.73" x2="639.60" y2="742.73" stroke="#000" stroke-width="2.1" />
<line x1="129.40" y1="731.65" x2="118.70" y2="731.65" stroke="#000" stroke-width="2.1" />
<line x1="633.10" y1="731.65" x2="643.80" y2="731.65" stroke="#000" stroke-width="2.1" />
<text transform="translate(105.20,740.25) scale(1.0,1.05)" font-size="24" text-anchor="end">1</text>
<text transform="translate(105.40,982.55) scale(1.0,1.05)" font-size="24" text-anchor="end">0.1</text>
<text transform="translate(129.40,1019.30) scale(1.0,1.05)" font-size="24" text-anchor="middle">0</text>
<text transform="translate(255.32,1019.30) scale(1.0,1.05)" font-size="24" text-anchor="middle">5</text>
<text transform="translate(381.25,1019.30) scale(1.0,1.05)" font-size="24" text-anchor="middle">10</text>
<text transform="translate(507.18,1019.30) scale(1.0,1.05)" font-size="24" text-anchor="middle">15</text>
<text transform="translate(633.10,1019.30) scale(1.0,1.05)" font-size="24" text-anchor="middle">20</text>
<text transform="translate(385.50,1054.90) scale(1.0,1.05)" font-size="24" text-anchor="middle"><tspan font-style="italic">x,</tspan> μm</text>
<text transform="translate(12.80,739.50) scale(1.0,1.035)" font-size="34" font-weight="bold">d</text>
<text transform="translate(46.7,854.9) rotate(-90) scale(1,1.06)" font-size="23.6" text-anchor="middle">BLS amplitude, a.u.</text>
<rect x="124.90" y="945.00" width="9.0" height="9.0" fill="#fff" stroke="#0000ff" stroke-width="2.35"/>
<rect x="150.09" y="934.20" width="9.0" height="9.0" fill="#fff" stroke="#0000ff" stroke-width="2.35"/>
<rect x="175.27" y="922.90" width="9.0" height="9.0" fill="#fff" stroke="#0000ff" stroke-width="2.35"/>
<rect x="200.46" y="914.70" width="9.0" height="9.0" fill="#fff" stroke="#0000ff" stroke-width="2.35"/>
<rect x="225.64" y="907.80" width="9.0" height="9.0" fill="#fff" stroke="#0000ff" stroke-width="2.35"/>
<rect x="250.82" y="899.90" width="9.0" height="9.0" fill="#fff" stroke="#0000ff" stroke-width="2.35"/>
<rect x="276.01" y="898.90" width="9.0" height="9.0" fill="#fff" stroke="#0000ff" stroke-width="2.35"/>
<rect x="301.20" y="898.30" width="9.0" height="9.0" fill="#fff" stroke="#0000ff" stroke-width="2.35"/>
<rect x="326.38" y="892.50" width="9.0" height="9.0" fill="#fff" stroke="#0000ff" stroke-width="2.35"/>
<rect x="351.57" y="891.50" width="9.0" height="9.0" fill="#fff" stroke="#0000ff" stroke-width="2.35"/>
<rect x="376.75" y="889.10" width="9.0" height="9.0" fill="#fff" stroke="#0000ff" stroke-width="2.35"/>
<rect x="401.94" y="886.60" width="9.0" height="9.0" fill="#fff" stroke="#0000ff" stroke-width="2.35"/>
<rect x="427.12" y="890.50" width="9.0" height="9.0" fill="#fff" stroke="#0000ff" stroke-width="2.35"/>
<rect x="452.31" y="892.10" width="9.0" height="9.0" fill="#fff" stroke="#0000ff" stroke-width="2.35"/>
<rect x="477.49" y="888.10" width="9.0" height="9.0" fill="#fff" stroke="#0000ff" stroke-width="2.35"/>
<rect x="502.68" y="889.10" width="9.0" height="9.0" fill="#fff" stroke="#0000ff" stroke-width="2.35"/>
<rect x="527.86" y="891.10" width="9.0" height="9.0" fill="#fff" stroke="#0000ff" stroke-width="2.35"/>
<rect x="553.05" y="886.00" width="9.0" height="9.0" fill="#fff" stroke="#0000ff" stroke-width="2.35"/>
<rect x="578.23" y="883.40" width="9.0" height="9.0" fill="#fff" stroke="#0000ff" stroke-width="2.35"/>
<rect x="603.42" y="876.80" width="9.0" height="9.0" fill="#fff" stroke="#0000ff" stroke-width="2.35"/>
<rect x="628.60" y="875.80" width="9.0" height="9.0" fill="#fff" stroke="#0000ff" stroke-width="2.35"/>
<rect x="124.90" y="843.70" width="9.0" height="9.0" fill="#fff" stroke="#ff0000" stroke-width="2.35"/>
<rect x="150.09" y="843.10" width="9.0" height="9.0" fill="#fff" stroke="#ff0000" stroke-width="2.35"/>
<rect x="175.27" y="840.00" width="9.0" height="9.0" fill="#fff" stroke="#ff0000" stroke-width="2.35"/>
<rect x="200.46" y="843.70" width="9.0" height="9.0" fill="#fff" stroke="#ff0000" stroke-width="2.35"/>
<rect x="225.64" y="840.00" width="9.0" height="9.0" fill="#fff" stroke="#ff0000" stroke-width="2.35"/>
<rect x="250.82" y="837.60" width="9.0" height="9.0" fill="#fff" stroke="#ff0000" stroke-width="2.35"/>
<rect x="276.01" y="837.60" width="9.0" height="9.0" fill="#fff" stroke="#ff0000" stroke-width="2.35"/>
<rect x="301.20" y="835.50" width="9.0" height="9.0" fill="#fff" stroke="#ff0000" stroke-width="2.35"/>
<rect x="326.38" y="841.50" width="9.0" height="9.0" fill="#fff" stroke="#ff0000" stroke-width="2.35"/>
<rect x="351.57" y="840.40" width="9.0" height="9.0" fill="#fff" stroke="#ff0000" stroke-width="2.35"/>
<rect x="376.75" y="838.60" width="9.0" height="9.0" fill="#fff" stroke="#ff0000" stroke-width="2.35"/>
<rect x="401.94" y="845.70" width="9.0" height="9.0" fill="#fff" stroke="#ff0000" stroke-width="2.35"/>
<rect x="427.12" y="843.50" width="9.0" height="9.0" fill="#fff" stroke="#ff0000" stroke-width="2.35"/>
<rect x="452.31" y="842.10" width="9.0" height="9.0" fill="#fff" stroke="#ff0000" stroke-width="2.35"/>
<rect x="477.49" y="837.30" width="9.0" height="9.0" fill="#fff" stroke="#ff0000" stroke-width="2.35"/>
<rect x="502.68" y="841.50" width="9.0" height="9.0" fill="#fff" stroke="#ff0000" stroke-width="2.35"/>
<rect x="527.86" y="842.10" width="9.0" height="9.0" fill="#fff" stroke="#ff0000" stroke-width="2.35"/>
<rect x="553.05" y="848.20" width="9.0" height="9.0" fill="#fff" stroke="#ff0000" stroke-width="2.35"/>
<rect x="578.23" y="850.90" width="9.0" height="9.0" fill="#fff" stroke="#ff0000" stroke-width="2.35"/>
<rect x="603.42" y="858.00" width="9.0" height="9.0" fill="#fff" stroke="#ff0000" stroke-width="2.35"/>
<rect x="628.60" y="861.50" width="9.0" height="9.0" fill="#fff" stroke="#ff0000" stroke-width="2.35"/>
<rect x="124.90" y="727.00" width="9.0" height="9.0" fill="#fff" stroke="#000" stroke-width="2.35"/>
<rect x="150.09" y="740.80" width="9.0" height="9.0" fill="#fff" stroke="#000" stroke-width="2.35"/>
<rect x="175.27" y="745.20" width="9.0" height="9.0" fill="#fff" stroke="#000" stroke-width="2.35"/>
<rect x="200.46" y="755.50" width="9.0" height="9.0" fill="#fff" stroke="#000" stroke-width="2.35"/>
<rect x="225.64" y="761.60" width="9.0" height="9.0" fill="#fff" stroke="#000" stroke-width="2.35"/>
<rect x="250.82" y="766.40" width="9.0" height="9.0" fill="#fff" stroke="#000" stroke-width="2.35"/>
<rect x="276.01" y="775.50" width="9.0" height="9.0" fill="#fff" stroke="#000" stroke-width="2.35"/>
<rect x="301.20" y="780.60" width="9.0" height="9.0" fill="#fff" stroke="#000" stroke-width="2.35"/>
<rect x="326.38" y="790.20" width="9.0" height="9.0" fill="#fff" stroke="#000" stroke-width="2.35"/>
<rect x="351.57" y="794.70" width="9.0" height="9.0" fill="#fff" stroke="#000" stroke-width="2.35"/>
<rect x="376.75" y="802.10" width="9.0" height="9.0" fill="#fff" stroke="#000" stroke-width="2.35"/>
<rect x="401.94" y="811.10" width="9.0" height="9.0" fill="#fff" stroke="#000" stroke-width="2.35"/>
<rect x="427.12" y="819.50" width="9.0" height="9.0" fill="#fff" stroke="#000" stroke-width="2.35"/>
<rect x="452.31" y="828.20" width="9.0" height="9.0" fill="#fff" stroke="#000" stroke-width="2.35"/>
<rect x="477.49" y="838.00" width="9.0" height="9.0" fill="#fff" stroke="#000" stroke-width="2.35"/>
<rect x="502.68" y="843.10" width="9.0" height="9.0" fill="#fff" stroke="#000" stroke-width="2.35"/>
<rect x="527.86" y="854.30" width="9.0" height="9.0" fill="#fff" stroke="#000" stroke-width="2.35"/>
<rect x="553.05" y="861.90" width="9.0" height="9.0" fill="#fff" stroke="#000" stroke-width="2.35"/>
<rect x="578.23" y="870.70" width="9.0" height="9.0" fill="#fff" stroke="#000" stroke-width="2.35"/>
<rect x="603.42" y="872.70" width="9.0" height="9.0" fill="#fff" stroke="#000" stroke-width="2.35"/>
<rect x="628.60" y="877.80" width="9.0" height="9.0" fill="#fff" stroke="#000" stroke-width="2.35"/>
<rect x="123.73" y="725.62" width="11.35" height="11.35" fill="#000"/>
<rect x="148.91" y="736.83" width="11.35" height="11.35" fill="#000"/>
<rect x="174.09" y="738.53" width="11.35" height="11.35" fill="#000"/>
<rect x="199.28" y="746.12" width="11.35" height="11.35" fill="#000"/>
<rect x="224.47" y="749.23" width="11.35" height="11.35" fill="#000"/>
<rect x="249.65" y="749.83" width="11.35" height="11.35" fill="#000"/>
<rect x="274.83" y="755.33" width="11.35" height="11.35" fill="#000"/>
<rect x="300.02" y="757.73" width="11.35" height="11.35" fill="#000"/>
<rect x="325.20" y="763.53" width="11.35" height="11.35" fill="#000"/>
<rect x="350.39" y="766.53" width="11.35" height="11.35" fill="#000"/>
<rect x="375.57" y="768.93" width="11.35" height="11.35" fill="#000"/>
<rect x="400.76" y="773.93" width="11.35" height="11.35" fill="#000"/>
<rect x="425.94" y="778.03" width="11.35" height="11.35" fill="#000"/>
<rect x="451.13" y="781.12" width="11.35" height="11.35" fill="#000"/>
<rect x="476.31" y="784.23" width="11.35" height="11.35" fill="#000"/>
<rect x="501.50" y="787.83" width="11.35" height="11.35" fill="#000"/>
<rect x="526.69" y="791.33" width="11.35" height="11.35" fill="#000"/>
<rect x="551.87" y="796.43" width="11.35" height="11.35" fill="#000"/>
<rect x="577.06" y="800.12" width="11.35" height="11.35" fill="#000"/>
<rect x="602.24" y="802.12" width="11.35" height="11.35" fill="#000"/>
<rect x="627.43" y="804.83" width="11.35" height="11.35" fill="#000"/>
<line x1="129.40" y1="738.20" x2="633.10" y2="811.50" stroke="#000" stroke-width="2.3" />
<text transform="translate(510.50,779.30) scale(1.0,1.05)" font-size="24">Integral</text>
<text transform="translate(207.00,808.30) scale(1.0,1.05)" font-size="24">4.1 GHz</text>
<text transform="translate(148.00,883.30) scale(1.0,1.05)" font-size="24" fill="#ff0000">3.9 GHz</text>
<text transform="translate(301.00,938.30) scale(1.0,1.05)" font-size="24" fill="#0000ff">4.3 GHz</text>
</svg>
</body></html>
